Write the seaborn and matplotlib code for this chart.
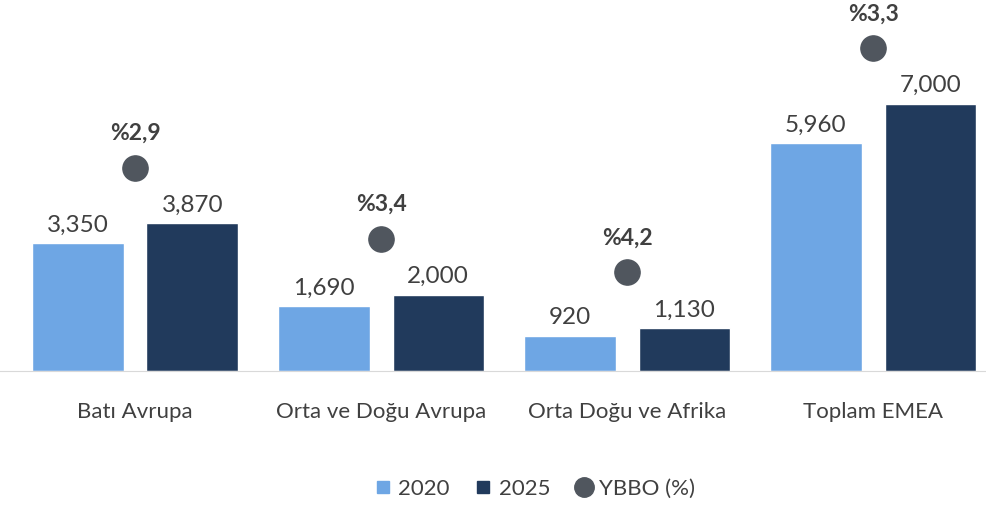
import pandas as pd
import matplotlib.pyplot as plt
import seaborn as sns
from matplotlib.lines import Line2D

regions = ['Batı Avrupa', 'Orta ve Doğu Avrupa', 'Orta Doğu ve Afrika', 'Toplam EMEA']
values_2020 = [3350, 1690, 920, 5960]
values_2025 = [3870, 2000, 1130, 7000]
growth = [2.9, 3.4, 4.2, 3.3]

c2020 = '#6ea6e4'
c2025 = '#213a5c'
c_dot = '#50565e'
c_text = '#404040'

df = pd.DataFrame({
    'region': regions * 2,
    'year': ['2020'] * 4 + ['2025'] * 4,
    'value': values_2020 + values_2025,
})

sns.set_style('white')
plt.rcParams['font.family'] = ['Lato', 'DejaVu Sans']

fig = plt.figure(figsize=(9.86, 5.06), dpi=100)
ax = fig.add_axes([0, 0.265, 1, 0.735])

sns.barplot(data=df, x='region', y='value', hue='year', palette=[c2020, c2025],
            width=0.93, gap=0.2, ax=ax, legend=False, saturation=1)

for cont in ax.containers:
    ax.bar_label(cont, labels=[f'{v:,.0f}' for v in cont.datavalues],
                 padding=6, fontsize=17.5, color=c_text)

# dots for growth, placed above the 2025 bars
offset = 1450
dot_y = [v + offset for v in values_2025]
ax.scatter(range(len(regions)), dot_y, s=330, color=c_dot, zorder=3)
for i, g in enumerate(growth):
    ax.annotate(f'%{g:.1f}'.replace('.', ','), (i, dot_y[i]), xytext=(0, 18),
                textcoords='offset points', ha='center', va='bottom',
                fontsize=16.5, fontweight='bold', color=c_text)

ax.set_xlim(-0.549, 3.459)
ax.set_ylim(0, 9740)
ax.set_xlabel('')
ax.set_ylabel('')
ax.set_yticks([])
for s in ['top', 'right', 'left']:
    ax.spines[s].set_visible(False)
ax.spines['bottom'].set_color('#d9d9d9')
ax.tick_params(axis='x', length=0, pad=22, labelsize=16, labelcolor=c_text)

handles = [
    Line2D([], [], marker='s', linestyle='', color=c2020, markersize=9),
    Line2D([], [], marker='s', linestyle='', color=c2025, markersize=9),
    Line2D([], [], marker='o', linestyle='', color=c_dot, markersize=14),
]
fig.legend(handles, ['2020', '2025', 'YBBO (%)'], loc='center', bbox_to_anchor=(0.54, 0.033),
           ncol=3, frameon=False, fontsize=16, handletextpad=0.1, columnspacing=0.9,
           handlelength=1.2, labelcolor=c_text)

fig.savefig('out.png', dpi=100)
